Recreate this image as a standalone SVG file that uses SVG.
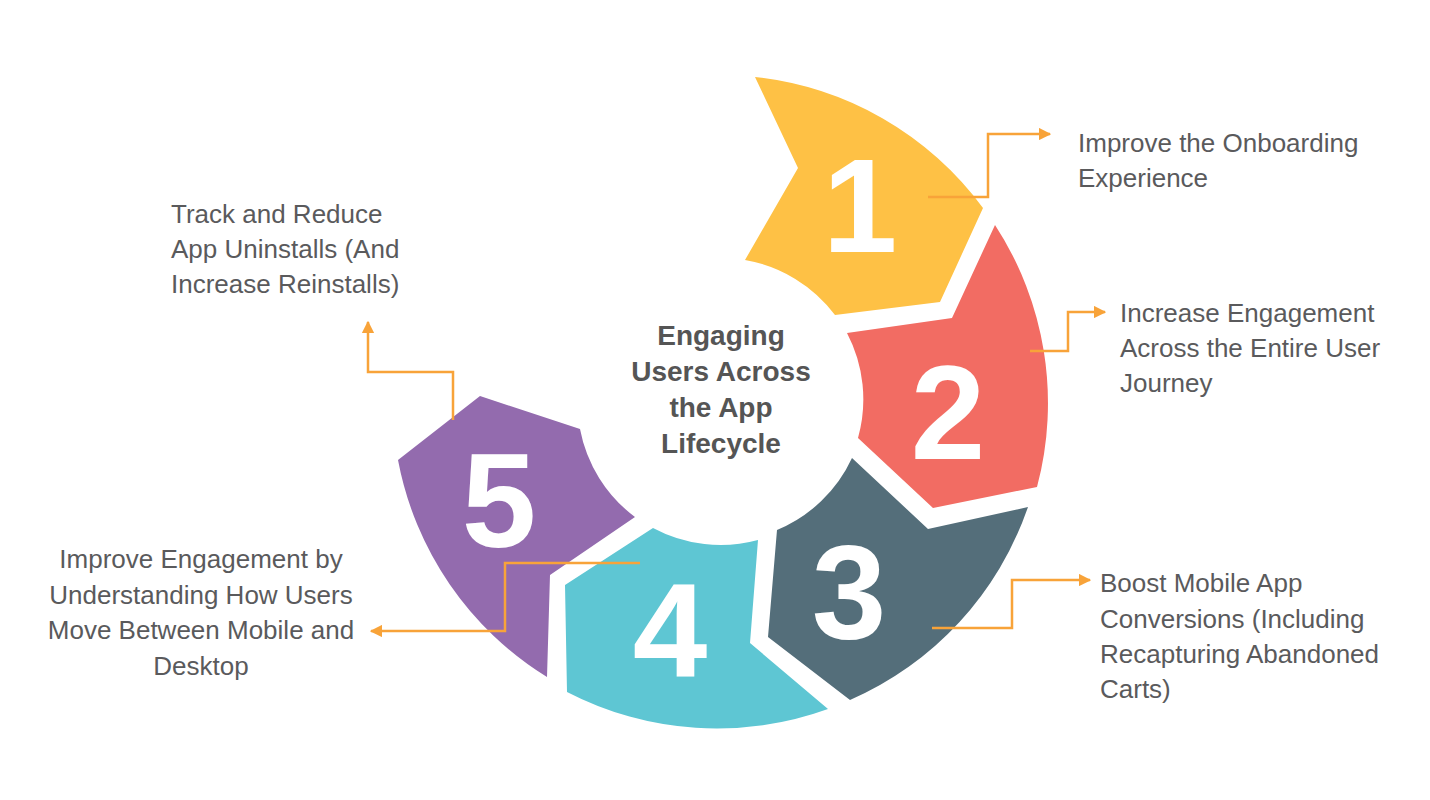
<svg xmlns="http://www.w3.org/2000/svg" width="1430" height="800" viewBox="0 0 1430 800">
<defs>
<style>
.num{font-family:"Liberation Sans",Arial,sans-serif;font-weight:700;font-size:134px;fill:#fff;text-anchor:middle}
.lbl{font-family:"Liberation Sans",Arial,sans-serif;font-size:26px;fill:#5a5a5c}
.ctr{font-family:"Liberation Sans",Arial,sans-serif;font-weight:700;font-size:28px;fill:#555;text-anchor:middle}
.con{fill:none;stroke:#f8a339;stroke-width:2.5;marker-end:url(#ah)}
</style>
<marker id="ah" viewBox="0 0 10 10" refX="9" refY="5" markerWidth="5" markerHeight="5" orient="auto" markerUnits="strokeWidth">
<path d="M0,0 L10,5 L0,10 Z" fill="#f8a339"/>
</marker>
</defs>
<rect width="1430" height="800" fill="#fff"/>
<g id="node1">
<path d="M755,77 A326,326 0 0 1 983,208 L940,302 L835,315 A143,143 0 0 0 745,260 L798,168 Z" fill="#fec145"/>
<text class="num" x="860" y="252">1</text>
</g>
<g id="node2">
<path d="M995,225 A326,326 0 0 1 1037,487 L933,508 L858,438 A143,143 0 0 0 847,333 L952,318 Z" fill="#f26c63"/>
<text class="num" x="948" y="459">2</text>
</g>
<g id="node3">
<path d="M852,458 L928,529 L1028,507 A326,326 0 0 1 850,700 L768,637 L777,530 A143,143 0 0 0 852,458 Z" fill="#546e7a"/>
<text class="num" x="849" y="639">3</text>
</g>
<g id="node4">
<path d="M565,585 L653,528 A143,143 0 0 0 758,540 L750,643 L828,709 A326,326 0 0 1 567,692 Z" fill="#5ec6d3"/>
<text class="num" x="670" y="677">4</text>
</g>
<g id="node5">
<path d="M480,396 L580,429 A143,143 0 0 0 635,517 L550,575 L547,677 A326,326 0 0 1 398,460 Z" fill="#936bae"/>
<text class="num" x="499" y="547">5</text>
</g>
<g id="center">
<text class="ctr" x="721" y="345">Engaging</text>
<text class="ctr" x="721" y="381">Users Across</text>
<text class="ctr" x="721" y="417">the App</text>
<text class="ctr" x="721" y="453">Lifecycle</text>
</g>
<g id="connectors">
<path class="con" d="M928,197 H988 V134 H1050"/>
<path class="con" d="M1030,351 H1068 V312 H1105"/>
<path class="con" d="M932,628 H1012 V580 H1090"/>
<path class="con" d="M640,563 H505 V631 H371"/>
<path class="con" d="M453,420 V372 H368 V322"/>
</g>
<g id="label1">
<text class="lbl" x="1078" y="152">Improve the Onboarding</text>
<text class="lbl" x="1078" y="187">Experience</text>
</g>
<g id="label2">
<text class="lbl" x="1120" y="322">Increase Engagement</text>
<text class="lbl" x="1120" y="357">Across the Entire User</text>
<text class="lbl" x="1120" y="392">Journey</text>
</g>
<g id="label3">
<text class="lbl" x="1100" y="592">Boost Mobile App</text>
<text class="lbl" x="1100" y="628">Conversions (Including</text>
<text class="lbl" x="1100" y="663">Recapturing Abandoned</text>
<text class="lbl" x="1100" y="698">Carts)</text>
</g>
<g id="label4" text-anchor="middle">
<text class="lbl" x="201" y="568">Improve Engagement by</text>
<text class="lbl" x="201" y="604">Understanding How Users</text>
<text class="lbl" x="201" y="639">Move Between Mobile and</text>
<text class="lbl" x="201" y="675">Desktop</text>
</g>
<g id="label5">
<text class="lbl" x="171" y="223">Track and Reduce</text>
<text class="lbl" x="171" y="258">App Uninstalls (And</text>
<text class="lbl" x="171" y="293">Increase Reinstalls)</text>
</g>
</svg>
